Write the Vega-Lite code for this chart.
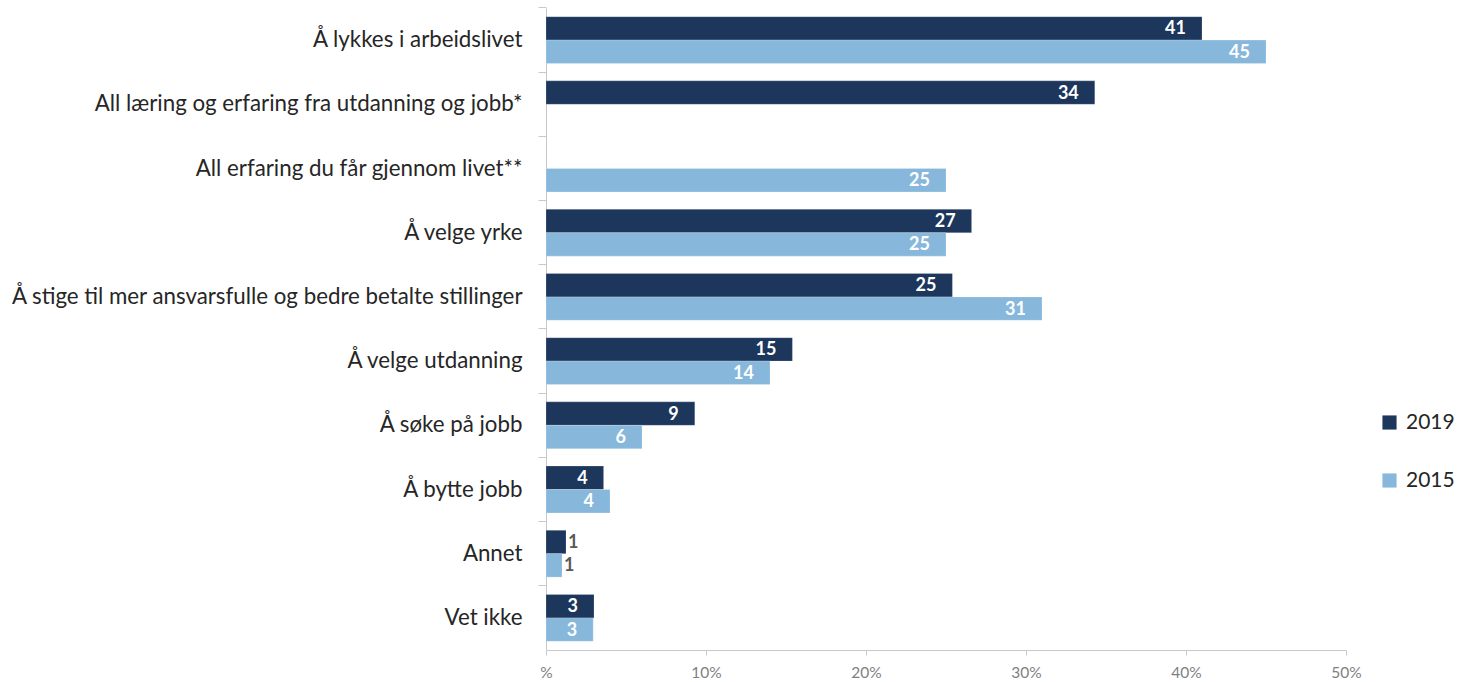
{
  "$schema": "https://vega.github.io/schema/vega-lite/v6.json",
  "autosize": {"type": "none"},
  "padding": {"left": 546, "top": 8, "right": 114, "bottom": 32},
  "width": 800,
  "height": 642,
  "background": "white",
  "config": {"view": {"stroke": null}, "font": "Lato"},
  "data": {"values": [
    {"kategori": "Å lykkes i arbeidslivet", "år": "2019", "verdi": 41},
    {"kategori": "Å lykkes i arbeidslivet", "år": "2015", "verdi": 45},
    {"kategori": "All læring og erfaring fra utdanning og jobb*", "år": "2019", "verdi": 34.3},
    {"kategori": "All erfaring du får gjennom livet**", "år": "2015", "verdi": 25},
    {"kategori": "Å velge yrke", "år": "2019", "verdi": 26.6},
    {"kategori": "Å velge yrke", "år": "2015", "verdi": 25},
    {"kategori": "Å stige til mer ansvarsfulle og bedre betalte stillinger", "år": "2019", "verdi": 25.4},
    {"kategori": "Å stige til mer ansvarsfulle og bedre betalte stillinger", "år": "2015", "verdi": 31},
    {"kategori": "Å velge utdanning", "år": "2019", "verdi": 15.4},
    {"kategori": "Å velge utdanning", "år": "2015", "verdi": 14},
    {"kategori": "Å søke på jobb", "år": "2019", "verdi": 9.3},
    {"kategori": "Å søke på jobb", "år": "2015", "verdi": 6},
    {"kategori": "Å bytte jobb", "år": "2019", "verdi": 3.6},
    {"kategori": "Å bytte jobb", "år": "2015", "verdi": 4},
    {"kategori": "Annet", "år": "2019", "verdi": 1.25},
    {"kategori": "Annet", "år": "2015", "verdi": 1},
    {"kategori": "Vet ikke", "år": "2019", "verdi": 3},
    {"kategori": "Vet ikke", "år": "2015", "verdi": 2.95}
  ]},
  "encoding": {
    "y": {
      "field": "kategori", "type": "nominal", "sort": null,
      "scale": {"paddingInner": 0.27, "paddingOuter": 0.135},
      "axis": {
        "title": null, "bandPosition": -0.185, "domainColor": "#c8c8c8", "tickColor": "#c8c8c8",
        "tickSize": 8, "labelPadding": 16, "labelFontSize": 22.3, "labelColor": "#262626",
        "labelLimit": 700, "labelFont": "Lato"
      }
    },
    "yOffset": {"field": "år", "type": "nominal", "sort": ["2019", "2015"]},
    "x": {
      "field": "verdi", "type": "quantitative",
      "scale": {"domain": [0, 50], "nice": false},
      "axis": {
        "title": null, "values": [0, 10, 20, 30, 40, 50], "grid": false, "labelFlush": false,
        "labelExpr": "datum.value == 0 ? '%' : datum.value + '%'",
        "domainColor": "#c8c8c8", "tickColor": "#c8c8c8", "tickSize": 5,
        "labelFontSize": 15.5, "labelColor": "#7f7f7f", "labelPadding": 10, "labelFont": "Lato"
      }
    }
  },
  "layer": [
    {
      "mark": {"type": "bar", "stroke": "white", "strokeWidth": 0.5, "strokeOpacity": 0.4},
      "encoding": {
        "color": {
          "field": "år", "type": "nominal",
          "scale": {"domain": ["2019", "2015"], "range": ["#1c365c", "#87b8dc"]},
          "legend": {
            "title": null, "orient": "none", "legendX": 833, "legendY": 404, "padding": 0,
            "symbolType": "square", "symbolSize": 200, "symbolStrokeWidth": 0,
            "labelFontSize": 21, "labelColor": "#262626", "labelFont": "Lato",
            "rowPadding": 36, "labelOffset": 6
          }
        }
      }
    },
    {
      "transform": [{"filter": "datum.verdi >= 2"}],
      "mark": {"type": "text", "align": "right", "dx": -16, "dy": 1, "baseline": "middle", "fontSize": 18, "fontWeight": "bold", "color": "white", "font": "Lato"},
      "encoding": {"text": {"field": "verdi", "type": "quantitative", "format": ".0f"}}
    },
    {
      "transform": [{"filter": "datum.verdi < 2"}],
      "mark": {"type": "text", "align": "left", "dx": 2, "dy": 1, "baseline": "middle", "fontSize": 18, "fontWeight": "bold", "color": "#595959", "font": "Lato"},
      "encoding": {"text": {"field": "verdi", "type": "quantitative", "format": ".0f"}}
    }
  ]
}
